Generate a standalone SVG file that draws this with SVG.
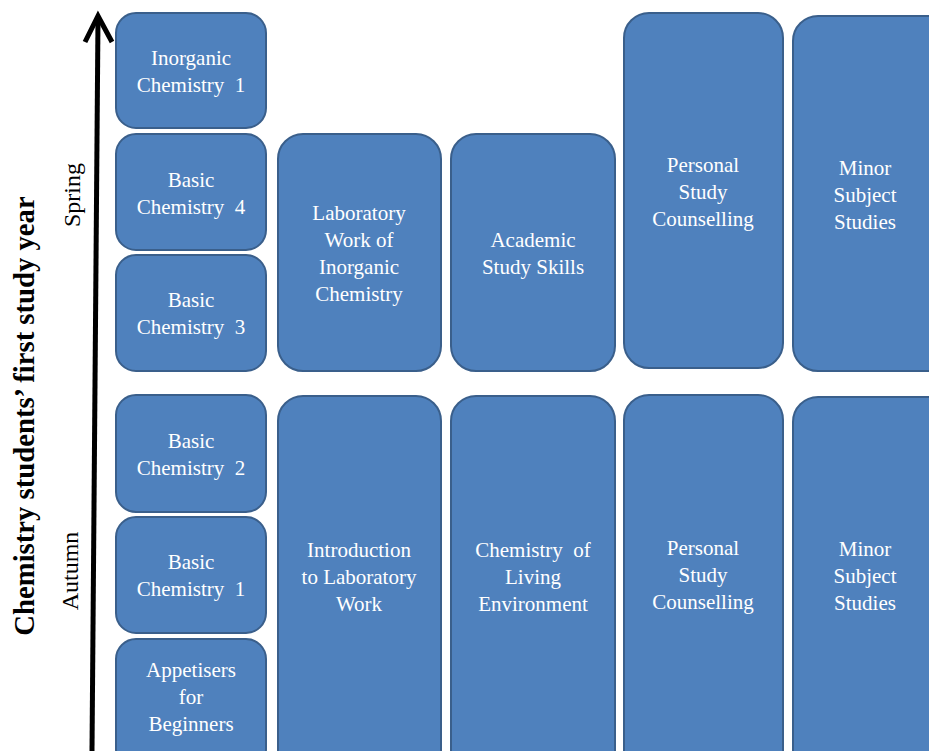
<svg xmlns="http://www.w3.org/2000/svg" width="929" height="751" viewBox="0 0 929 751">
<style>
.b{fill:#4F81BD;stroke:#3A5F8B;stroke-width:2}
.t{font-family:'Liberation Serif',Tinos,'Times New Roman',serif;font-size:21px;fill:#fff;text-anchor:middle;white-space:pre}
.l{font-family:'Liberation Serif',Tinos,'Times New Roman',serif;fill:#000;text-anchor:middle}
</style>
<rect width="929" height="751" fill="#fff"/>
<g id="axis">
<line x1="92" y1="751" x2="98" y2="18" stroke="#000" stroke-width="5"/>
<polyline points="85,42 98,16 112,42" fill="none" stroke="#000" stroke-width="5" stroke-linejoin="miter"/>
</g>
<g id="labels">
<text class="l" transform="translate(34,416) rotate(-90)" font-size="28.7" font-weight="bold">Chemistry students’ first study year</text>
<text class="l" transform="translate(80,195) rotate(-90)" font-size="24">Spring</text>
<text class="l" transform="translate(78,571) rotate(-90)" font-size="24">Autumn</text>
</g>
<g id="n_inorg1"><rect class="b" x="116" y="13" width="150" height="115" rx="20"/><text class="t" x="191" y="65">Inorganic</text><text class="t" x="191" y="92">Chemistry  1</text></g>
<g id="n_basic4"><rect class="b" x="116" y="134" width="150" height="116" rx="20"/><text class="t" x="191" y="187">Basic</text><text class="t" x="191" y="214">Chemistry  4</text></g>
<g id="n_basic3"><rect class="b" x="116" y="255" width="150" height="116" rx="20"/><text class="t" x="191" y="307">Basic</text><text class="t" x="191" y="334">Chemistry  3</text></g>
<g id="n_basic2"><rect class="b" x="116" y="395" width="150" height="117" rx="20"/><text class="t" x="191" y="448">Basic</text><text class="t" x="191" y="475">Chemistry  2</text></g>
<g id="n_basic1"><rect class="b" x="116" y="517" width="150" height="116" rx="20"/><text class="t" x="191" y="569">Basic</text><text class="t" x="191" y="596">Chemistry  1</text></g>
<g id="n_appet"><rect class="b" x="116" y="639" width="150" height="130" rx="20"/><text class="t" x="191" y="677">Appetisers</text><text class="t" x="191" y="704">for</text><text class="t" x="191" y="731">Beginners</text></g>
<g id="n_labinorg"><rect class="b" x="278" y="134" width="163" height="237" rx="25"/><text class="t" x="359" y="220">Laboratory</text><text class="t" x="359" y="247">Work of</text><text class="t" x="359" y="274">Inorganic</text><text class="t" x="359" y="301">Chemistry</text></g>
<g id="n_introlab"><rect class="b" x="278" y="396" width="163" height="380" rx="25"/><text class="t" x="359" y="557">Introduction</text><text class="t" x="359" y="584">to Laboratory</text><text class="t" x="359" y="611">Work</text></g>
<g id="n_academic"><rect class="b" x="451" y="134" width="164" height="237" rx="25"/><text class="t" x="533" y="247">Academic</text><text class="t" x="533" y="274">Study Skills</text></g>
<g id="n_living"><rect class="b" x="451" y="396" width="164" height="380" rx="25"/><text class="t" x="533" y="557">Chemistry  of</text><text class="t" x="533" y="584">Living</text><text class="t" x="533" y="611">Environment</text></g>
<g id="n_pers_spring"><rect class="b" x="624" y="13" width="159" height="355" rx="25"/><text class="t" x="703" y="172">Personal</text><text class="t" x="703" y="199">Study</text><text class="t" x="703" y="226">Counselling</text></g>
<g id="n_minor_spring"><rect class="b" x="793" y="16" width="160" height="355" rx="25"/><text class="t" x="865" y="175">Minor</text><text class="t" x="865" y="202">Subject</text><text class="t" x="865" y="229">Studies</text></g>
<g id="n_pers_autumn"><rect class="b" x="624" y="395" width="159" height="380" rx="25"/><text class="t" x="703" y="555">Personal</text><text class="t" x="703" y="582">Study</text><text class="t" x="703" y="609">Counselling</text></g>
<g id="n_minor_autumn"><rect class="b" x="793" y="397" width="160" height="380" rx="25"/><text class="t" x="865" y="556">Minor</text><text class="t" x="865" y="583">Subject</text><text class="t" x="865" y="610">Studies</text></g>
</svg>
